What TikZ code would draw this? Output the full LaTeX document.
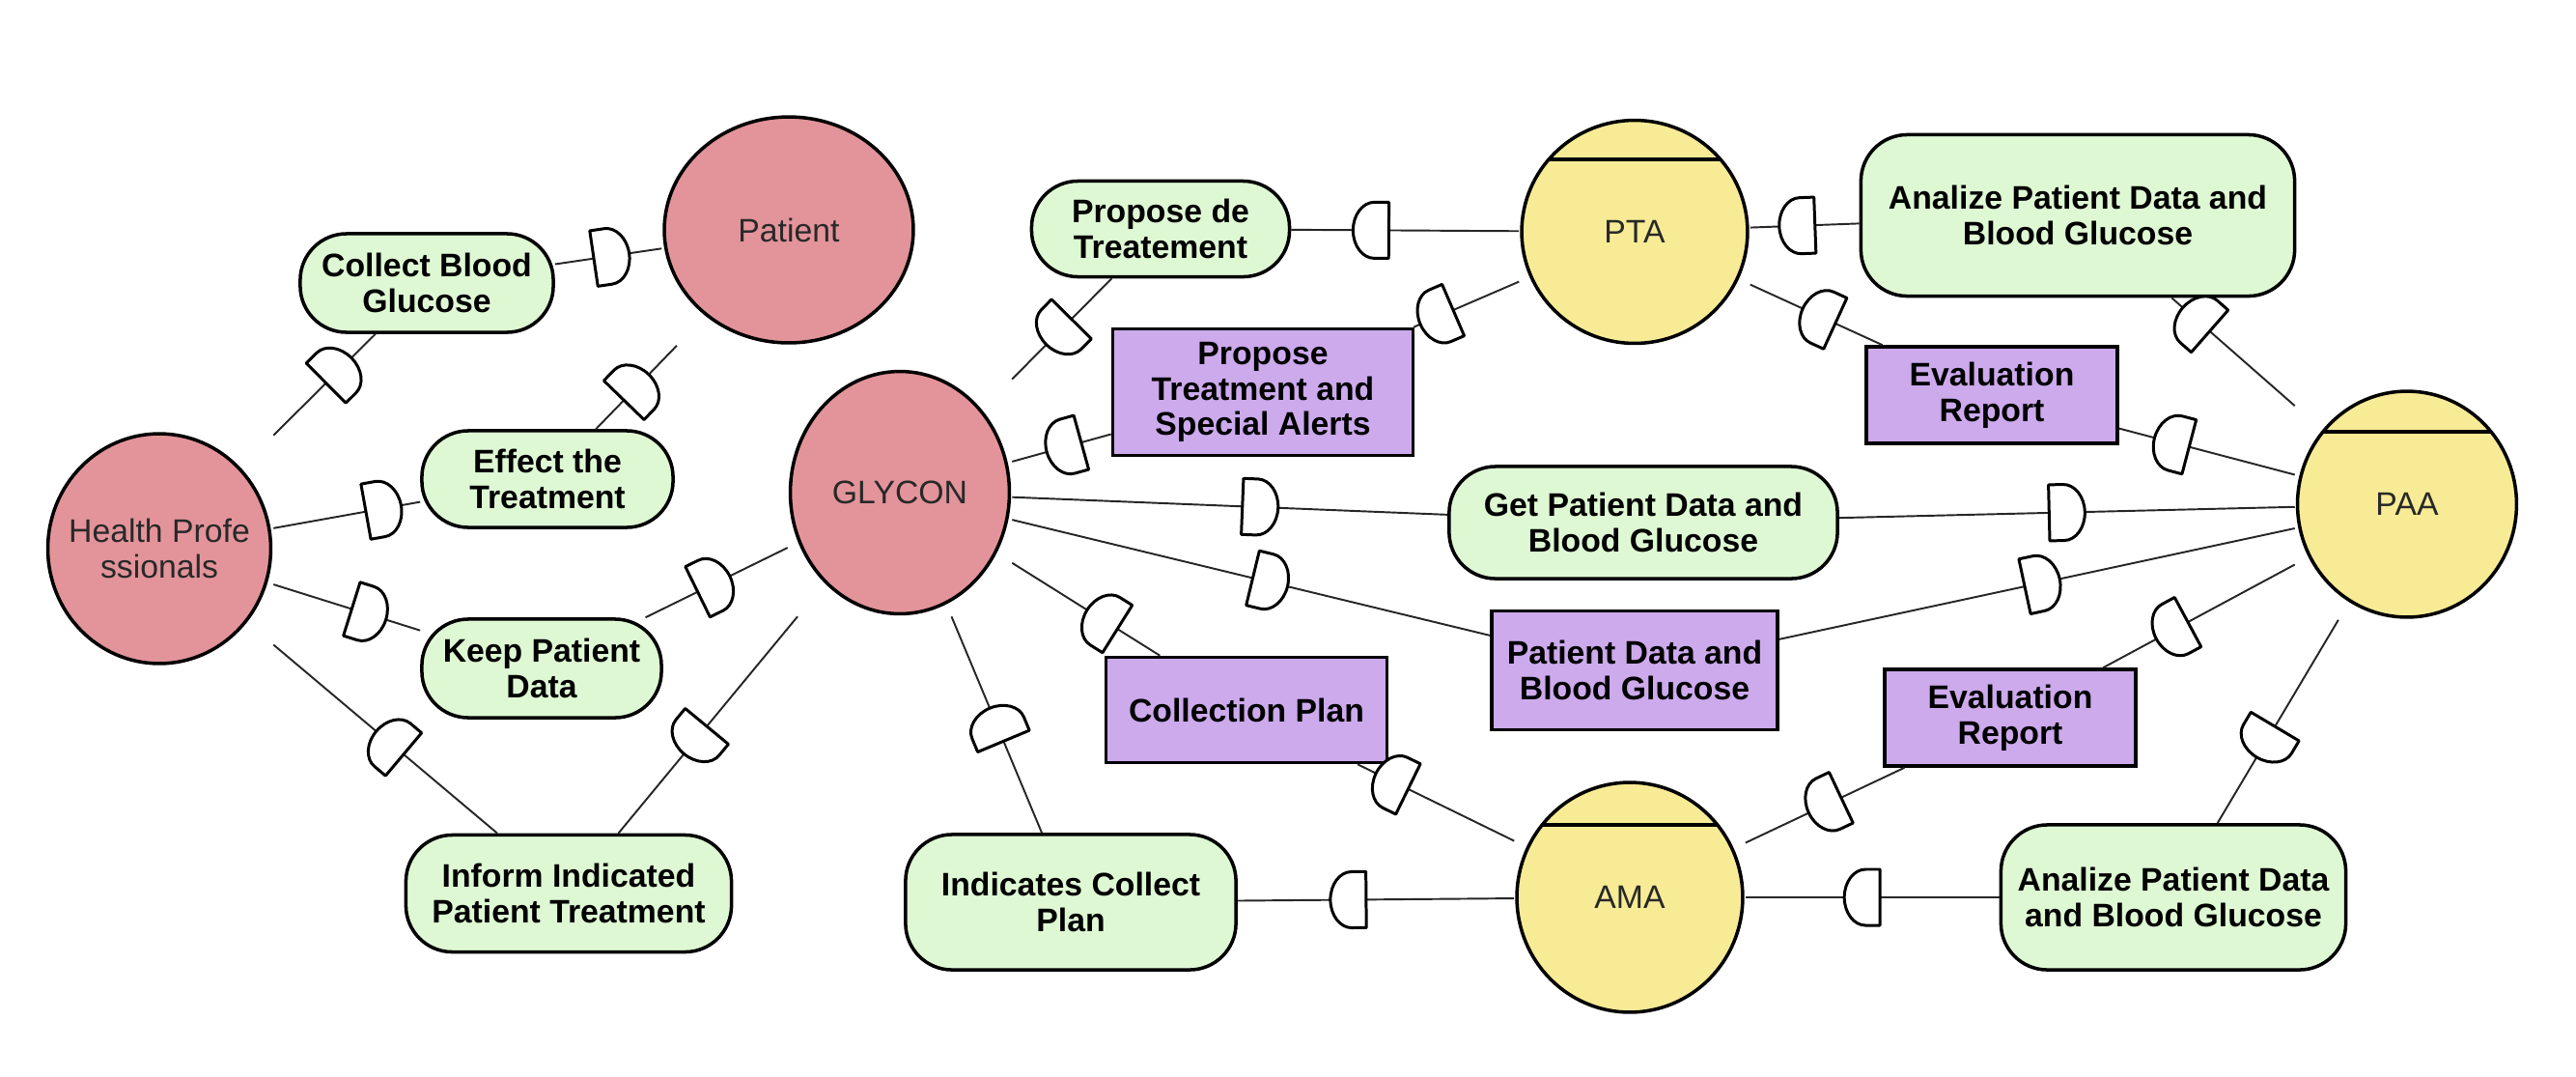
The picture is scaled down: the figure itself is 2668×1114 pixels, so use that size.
\documentclass[tikz,border=0pt]{standalone}
\usepackage{fontspec}
\setmainfont{Liberation Sans}
\usetikzlibrary{calc}
\definecolor{actpink}{RGB}{226,148,154}
\definecolor{agyel}{RGB}{248,235,150}
\definecolor{goalgr}{RGB}{222,248,212}
\definecolor{respur}{RGB}{204,170,236}
\definecolor{txtg}{RGB}{40,40,40}
\tikzset{
  txtfont/.style={font=\fontsize{9.6}{10.4}\selectfont},
  actorbase/.style={rectangle, inner sep=0pt, draw=none, fill=white, align=center,
    text=txtg, font=\fontsize{9.6}{10.4}\selectfont},
  actor/.style 2 args={actorbase, minimum width=#1, minimum height=#2,
    path picture={
      \draw[line width=1pt, fill=actpink] (path picture bounding box.center)
        ellipse [x radius=0.5*#1-0.6pt, y radius=0.5*#2-0.6pt];
    }},
  agent/.style 2 args={actorbase, minimum width=#1, minimum height=#2,
    path picture={
      \draw[line width=1pt, fill=agyel] (path picture bounding box.center)
        ellipse [x radius=0.5*#1-0.6pt, y radius=0.5*#2-0.6pt];
      \begin{scope}
        \clip (path picture bounding box.center)
          ellipse [x radius=0.5*#1-0.6pt, y radius=0.5*#2-0.6pt];
        \draw[line width=1pt] ([shift={(-2cm,0.75cm)}]path picture bounding box.center)
          -- ([shift={(2cm,0.75cm)}]path picture bounding box.center);
      \end{scope}
    }},
  goal/.style 2 args={rectangle, rounded corners=0.48cm, draw=black, line width=1pt,
    fill=goalgr, minimum width=#1, minimum height=#2, align=center, inner sep=1pt,
    text=black, font=\fontsize{9.6}{10.4}\selectfont\bfseries},
  res/.style 2 args={rectangle, draw=black, line width=1pt,
    fill=respur, minimum width=#1, minimum height=#2, align=center, inner sep=1pt,
    text=black, font=\fontsize{9.6}{10.4}\selectfont\bfseries},
  conn/.style={draw=black!85, line width=0.55pt},
  dm/.style={pos=#1, sloped, allow upside down},
  dmk/.pic={
    \draw[line width=0.85pt, draw=black, fill=white, line join=round]
      (-0.185cm,-0.29cm) -- (-0.035cm,-0.29cm)
      arc[start angle=-90, end angle=90, x radius=0.22cm, y radius=0.29cm]
      -- (-0.185cm,0.29cm) -- cycle;
  }
}
\begin{document}
\begin{tikzpicture}[x=0.01cm, y=-0.01cm]
\useasboundingbox (0,0) rectangle (2668,1114);

% actors
\node[actor={2.35cm}{2.42cm}] (HP) at (165,568) {Health Profe\\ssionals};
\node[actor={2.62cm}{2.38cm}] (PAT) at (817,238) {Patient};
\node[actor={2.31cm}{2.55cm}] (GLY) at (932,510) {GLYCON};
\node[agent={2.38cm}{2.35cm}] (PTA) at (1693,240) {PTA};
\node[agent={2.31cm}{2.38cm}] (PAA) at (2493,522) {PAA};
\node[agent={2.38cm}{2.42cm}] (AMA) at (1688,929) {AMA};

% goals
\node[goal={2.62cm}{1.02cm}] (CBG) at (442,293) {Collect Blood\\Glucose};
\node[goal={2.60cm}{1.00cm}] (EFF) at (567,496) {Effect the\\Treatment};
\node[goal={2.48cm}{1.02cm}] (KPD) at (561,692) {Keep Patient\\Data};
\node[goal={3.37cm}{1.21cm}] (INF) at (589,925) {Inform Indicated\\Patient Treatment};
\node[goal={2.67cm}{0.99cm}] (PDT) at (1202,237) {Propose de\\Treatement};
\node[goal={3.42cm}{1.40cm}] (ICP) at (1109,934) {Indicates Collect\\Plan};
\node[goal={4.02cm}{1.16cm}] (GPD) at (1702,541) {Get Patient Data and\\Blood Glucose};
\node[goal={4.49cm}{1.67cm}] (ANT) at (2152,223) {Analize Patient Data and\\Blood Glucose};
\node[goal={3.57cm}{1.50cm}] (ANB) at (2251,929) {Analize Patient Data\\and Blood Glucose};

% resources
\node[res={3.11cm}{1.31cm}] (PTSA) at (1308,406) {Propose\\Treatment and\\Special Alerts};
\node[res={2.60cm}{1.00cm}] (ET) at (2063,409) {Evaluation\\Report};
\node[res={2.91cm}{1.09cm}] (CP) at (1291,735) {Collection Plan};
\node[res={2.96cm}{1.23cm}] (PDBG) at (1693,694) {Patient Data and\\Blood Glucose};
\node[res={2.60cm}{1.00cm}] (EB) at (2082,743) {Evaluation\\Report};

% dependencies
\draw[conn] (HP) -- pic[dm=0.64]{dmk} (CBG);
\draw[conn] (CBG) -- pic[dm=0.53]{dmk} (PAT);
\draw[conn] (HP) -- pic[dm=0.75]{dmk} (EFF);
\draw[conn] (EFF) -- pic[dm=0.5]{dmk} (PAT);
\draw[conn] (HP) -- pic[dm=0.65]{dmk} (KPD);
\draw[conn] (KPD) -- pic[dm=0.48]{dmk} (GLY);
\draw[conn] (INF) -- pic[dm=0.48]{dmk} (HP);
\draw[conn] (GLY) -- pic[dm=0.57]{dmk} (INF);
\draw[conn] (PDT) -- pic[dm=0.53]{dmk} (GLY);
\draw[conn] (PTA) -- pic[dm=0.65]{dmk} (PDT);
\draw[conn] (PTSA) -- pic[dm=0.475]{dmk} (GLY);
\draw[conn] (PTA) -- pic[dm=0.78]{dmk} (PTSA);
\draw[conn] (GLY) -- pic[dm=0.57]{dmk} (GPD);
\draw[conn] (GPD) -- pic[dm=0.5]{dmk} (PAA);
\draw[conn] (GLY) -- pic[dm=0.54]{dmk} (PDBG);
\draw[conn] (PDBG) -- pic[dm=0.51]{dmk} (PAA);
\draw[conn] (CP) -- pic[dm=0.39]{dmk} (GLY);
\draw[conn] (AMA) -- pic[dm=0.78]{dmk} (CP);
\draw[conn] (ICP) -- pic[dm=0.5]{dmk} (GLY);
\draw[conn] (AMA) -- pic[dm=0.6]{dmk} (ICP);
\draw[conn] (ANT) -- pic[dm=0.57]{dmk} (PTA);
\draw[conn] (PAA) -- pic[dm=0.8]{dmk} (ANT);
\draw[conn] (ET) -- pic[dm=0.48]{dmk} (PTA);
\draw[conn] (PAA) -- pic[dm=0.7]{dmk} (ET);
\draw[conn] (EB) -- pic[dm=0.5]{dmk} (AMA);
\draw[conn] (PAA) -- pic[dm=0.64]{dmk} (EB);
\draw[conn] (PAA) -- pic[dm=0.6]{dmk} (ANB);
\draw[conn] (ANB) -- pic[dm=0.54]{dmk} (AMA);
\end{tikzpicture}
\end{document}
